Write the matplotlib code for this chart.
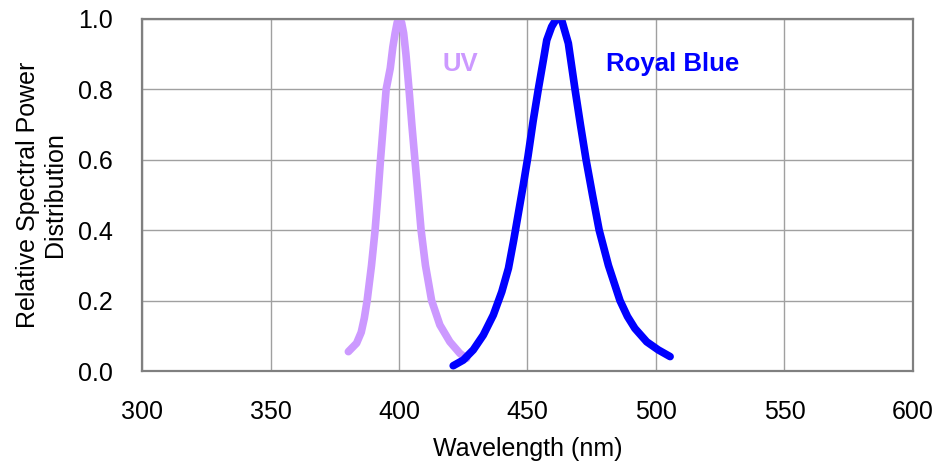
import matplotlib.pyplot as plt

plt.rcParams['font.family'] = ['Liberation Sans', 'DejaVu Sans']

# UV curve
uv_wl = [380.3, 383.5, 385.3, 386.5, 387.6, 389.3, 390.7, 391.8, 392.8, 393.9, 395.0,
         396.6, 397.6, 398.5, 399.3, 400.0, 401.0, 401.8, 402.7, 403.9, 405.0, 406.2,
         407.4, 408.6, 410.3, 412.7, 415.9, 419.8, 423.7, 426.3]
uv_val = [0.055, 0.079, 0.11, 0.15, 0.2, 0.3, 0.4, 0.5, 0.6, 0.7, 0.8,
          0.86, 0.92, 0.96, 0.99, 1.0, 0.99, 0.96, 0.9, 0.8, 0.7, 0.6,
          0.5, 0.4, 0.3, 0.2, 0.131, 0.083, 0.050, 0.036]

# Royal Blue curve
rb_wl = [421.1, 425.0, 428.9, 432.8, 436.7, 440.0, 442.6, 444.6, 446.5, 448.4, 450.2,
         452.2, 454.2, 456.2, 457.5, 459.4, 461.2, 463.3, 465.9, 468.5, 470.6, 472.8,
         475.3, 477.9, 481.5, 486.0, 488.9, 491.8, 496.4, 500.9, 505.5]
rb_val = [0.015, 0.031, 0.060, 0.102, 0.159, 0.225, 0.292, 0.37, 0.45, 0.53, 0.61,
          0.71, 0.8, 0.884, 0.94, 0.978, 1.0, 0.997, 0.931, 0.8, 0.7, 0.6,
          0.5, 0.4, 0.3, 0.2, 0.155, 0.121, 0.083, 0.060, 0.041]

fig = plt.figure(figsize=(9.38, 4.70), dpi=100)
ax = fig.add_axes([0.1514, 0.2106, 0.8219, 0.749])

ax.plot(uv_wl, uv_val, color='#CC99FF', linewidth=5.5, solid_capstyle='round', solid_joinstyle='round')
ax.plot(rb_wl, rb_val, color='#0000FF', linewidth=5.5, solid_capstyle='round', solid_joinstyle='round')

ax.text(424, 0.872, "UV", color='#CC99FF', fontsize=18.5, fontweight='bold', ha='center', va='center')
ax.text(506.5, 0.872, "Royal Blue", color='#0000FF', fontsize=18.5, fontweight='bold', ha='center', va='center')

ax.set_xlim(300, 600)
ax.set_ylim(0, 1.0)
ax.set_xticks(range(300, 601, 50))
ax.set_yticks([0, 0.2, 0.4, 0.6, 0.8, 1.0])
ax.set_yticklabels(['0.0', '0.2', '0.4', '0.6', '0.8', '1.0'])
ax.grid(True, color='#a0a0a0', linewidth=1)
ax.set_axisbelow(True)
for s in ax.spines.values():
    s.set_color('#808080')
    s.set_linewidth(1.6)
ax.tick_params(length=0, labelsize=18, pad=21)

ax.set_xlabel("Wavelength (nm)", fontsize=18, labelpad=9)
ax.set_ylabel("Relative Spectral Power\nDistribution", fontsize=18, labelpad=8, linespacing=1.15)

plt.savefig("out.png")
